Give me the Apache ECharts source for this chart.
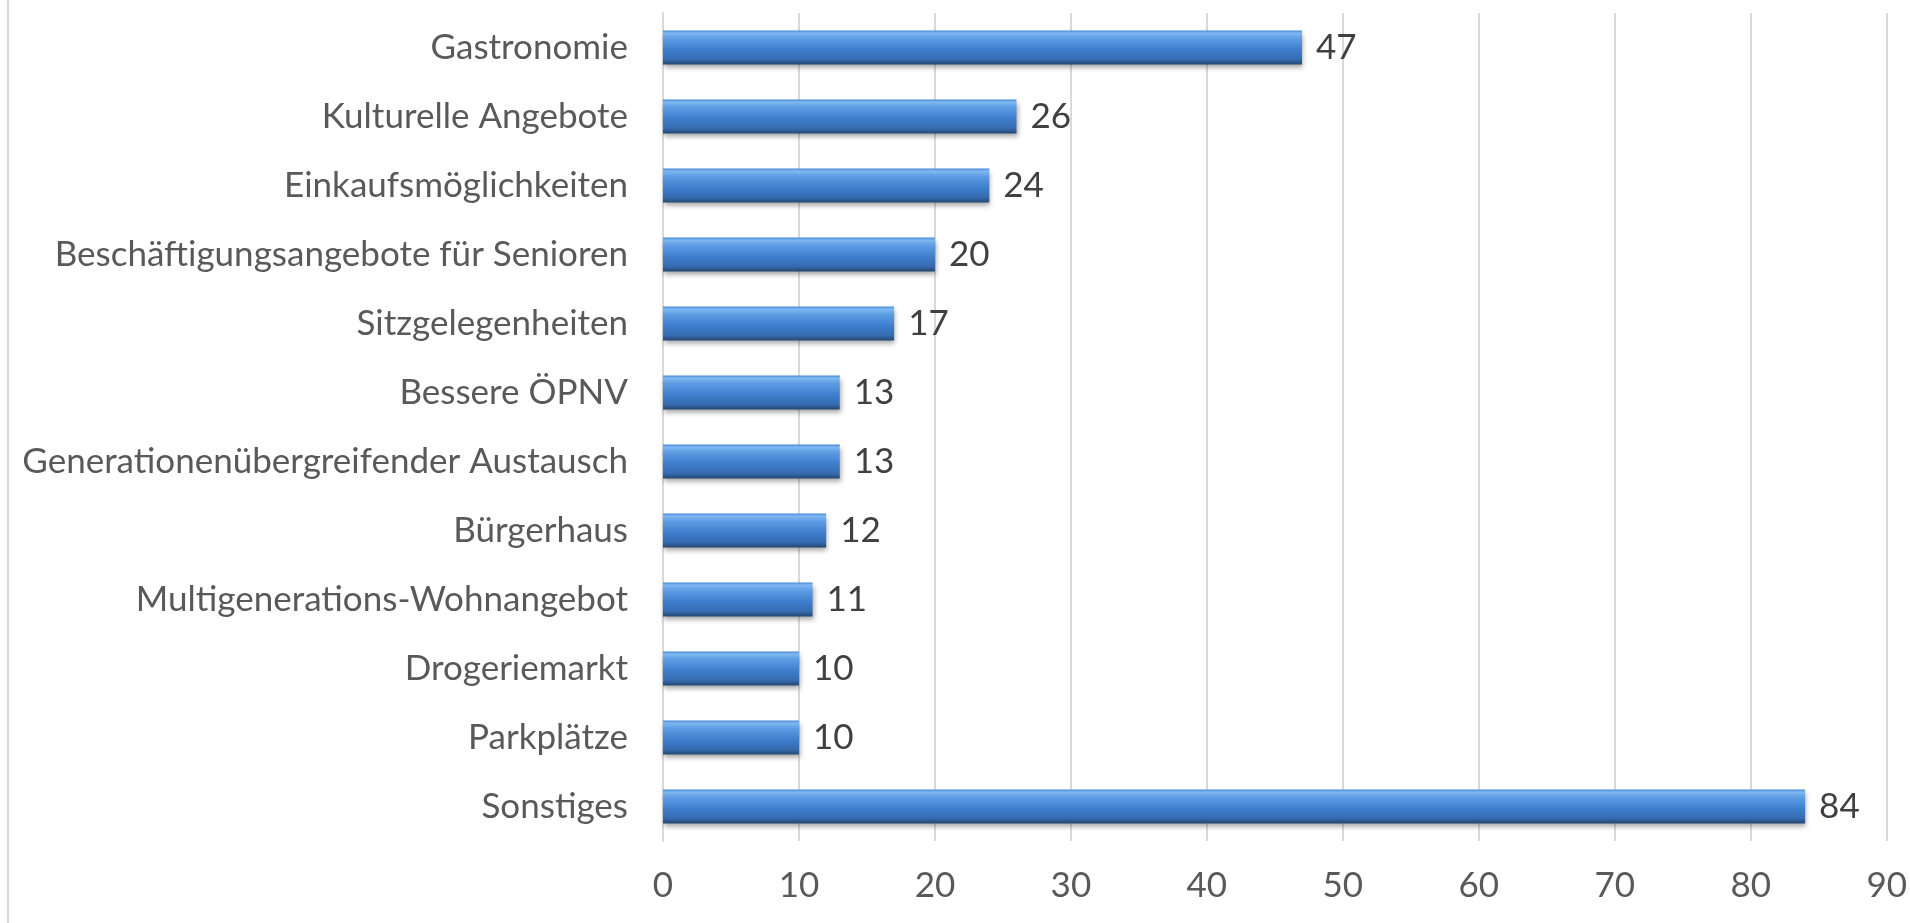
<!DOCTYPE html>
<html>
<head>
<meta charset="utf-8">
<script src="https://cdn.jsdelivr.net/npm/echarts@6/dist/echarts.min.js"></script>
<style>
html,body{margin:0;padding:0;background:#fff;}
#chart{width:1910px;height:923px;}
</style>
</head>
<body>
<div id="chart"></div>
<script>
const categories = [
  "Gastronomie",
  "Kulturelle Angebote",
  "Einkaufsmöglichkeiten",
  "Beschäftigungsangebote für Senioren",
  "Sitzgelegenheiten",
  "Bessere ÖPNV",
  "Generationenübergreifender Austausch",
  "Bürgerhaus",
  "Multigenerations-Wohnangebot",
  "Drogeriemarkt",
  "Parkplätze",
  "Sonstiges"
];
const values = [47, 26, 24, 20, 17, 13, 13, 12, 11, 10, 10, 84];
const axisMin = 0, axisMax = 90, axisInterval = 10;

const FONT = "Lato, 'Open Sans', sans-serif";
const chart = echarts.init(document.getElementById('chart'));
chart.setOption({
  animation: false,
  backgroundColor: '#ffffff',
  grid: { left: 663, right: 23, top: 13, bottom: 82, containLabel: false },
  xAxis: {
    type: 'value', min: axisMin, max: axisMax, interval: axisInterval,
    axisLine: { show: false }, axisTick: { show: false },
    splitLine: { show: true, lineStyle: { color: '#d9d9d9', width: 2 } },
    axisLabel: { color: '#595959', fontSize: 35, fontFamily: FONT, margin: 27 }
  },
  yAxis: {
    type: 'category', data: categories, inverse: true,
    axisLine: { show: true, lineStyle: { color: '#d9d9d9', width: 2 } },
    axisTick: { show: false },
    axisLabel: { color: '#595959', fontSize: 35, fontFamily: FONT, margin: 35 }
  },
  graphic: [{
    type: 'line', shape: { x1: 8, y1: 0, x2: 8, y2: 923 },
    style: { stroke: '#d9d9d9', lineWidth: 2 }, silent: true
  }],
  series: [{
    type: 'bar', data: values, barWidth: 34,
    itemStyle: {
      color: new echarts.graphic.LinearGradient(0, 0, 0, 1, [
        { offset: 0, color: '#4a8ad8' },
        { offset: 0.08, color: '#7fb8f2' },
        { offset: 0.22, color: '#5f9ee4' },
        { offset: 0.55, color: '#3f7fcf' },
        { offset: 0.85, color: '#366bb0' },
        { offset: 1, color: '#24476f' }
      ]),
      shadowColor: 'rgba(0,0,0,0.35)', shadowBlur: 5, shadowOffsetY: 3, shadowOffsetX: 1
    },
    label: {
      show: true, position: 'right', distance: 14,
      color: '#404040', fontSize: 35, fontFamily: FONT
    }
  }]
});
</script>
</body>
</html>
